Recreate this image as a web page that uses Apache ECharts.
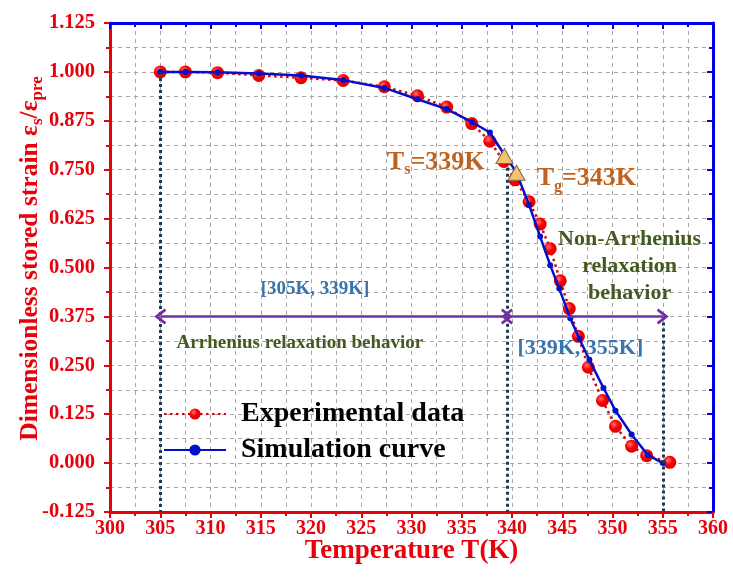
<!DOCTYPE html>
<html>
<head>
<meta charset="utf-8">
<script src="https://cdn.jsdelivr.net/npm/echarts@6/dist/echarts.min.js"></script>
<style>
html,body{margin:0;padding:0;background:#fff;}
#chart{width:733px;height:577px;}
</style>
</head>
<body>
<div id="chart"></div>
<script>
// ---- data ----
var expT   = [305, 307.5, 310.7, 314.8, 319.0, 323.2, 327.3, 330.6, 333.5, 336.0, 337.8, 339.2, 340.3, 341.7, 342.8, 343.8, 344.8, 345.7, 346.6, 347.6, 349.0, 350.3, 351.9, 353.4, 355.7];
var expV   = [1.000, 1.000, 0.998, 0.991, 0.985, 0.978, 0.962, 0.939, 0.910, 0.868, 0.823, 0.771, 0.724, 0.668, 0.611, 0.548, 0.466, 0.395, 0.324, 0.245, 0.160, 0.094, 0.043, 0.019, 0.002];
var simT   = [305, 307.5, 310.7, 314.8, 319.0, 323.2, 327.3, 330.6, 333.5, 336.0, 337.8, 339.2, 340.4, 341.7, 342.8, 343.8, 344.7, 345.8, 346.7, 347.7, 349.1, 350.3, 351.9, 353.5, 355.0];
var simV   = [1.000, 1.000, 0.999, 0.996, 0.991, 0.979, 0.959, 0.930, 0.905, 0.872, 0.845, 0.790, 0.745, 0.660, 0.579, 0.506, 0.446, 0.370, 0.318, 0.264, 0.192, 0.134, 0.073, 0.021, 0.000];
var triT   = [339.25, 340.45];
var triV   = [0.785, 0.742];
var xTicks = {min: 300, max: 360, interval: 5};
var yTicks = {min: -0.125, max: 1.125, interval: 0.125};
var seriesNames = ['Experimental data', 'Simulation curve'];
var ranges = [[305, 339.5], [339.5, 355]];
var rangeLevel = 0.375;
var vLines = [[305, 1.0], [339.5, 0.755], [355, 0.375]];

// ---- styles ----
var FONT = '"Liberation Serif", "Times New Roman", serif';
var RED = '#e8000b';
var BLUE = '#0000e6';
var GRID = {color: '#a6a6a6', type: [4, 4], width: 1};

function pairs(xs, ys) { return xs.map(function (x, i) { return [x, ys[i]]; }); }

var chart = echarts.init(document.getElementById('chart'), null, {renderer: 'canvas'});

var chevron = 'path://M5,0 L10,8 L8.6,9.2 L5,3.6 L1.4,9.2 L0,8 Z';

var option = {
  animation: false,
  backgroundColor: '#fff',
  grid: {left: 110, right: 20, top: 23, bottom: 65, containLabel: false, outerBoundsMode: 'none'},
  legend: {
    data: seriesNames,
    orient: 'vertical',
    left: 158, top: 395,
    itemWidth: 62, itemHeight: 14, itemGap: 8,
    textStyle: {fontFamily: FONT, fontWeight: 'bold', fontSize: 28, color: '#000', lineHeight: 28, padding: [0, 0, 0, 10]}
  },
  xAxis: [{
    type: 'value', position: 'bottom',
    min: xTicks.min, max: xTicks.max, interval: xTicks.interval,
    axisLine: {onZero: false, lineStyle: {color: RED, width: 3}},
    axisTick: {length: 6, lineStyle: {color: RED, width: 2}},
    minorTick: {show: true, splitNumber: 2, length: 4, lineStyle: {color: RED, width: 2}},
    axisLabel: {color: RED, fontFamily: FONT, fontWeight: 'bold', fontSize: 20, margin: 7},
    splitLine: {show: true, lineStyle: GRID},
    minorSplitLine: {show: true, lineStyle: GRID},
    name: 'Temperature T(K)', nameLocation: 'middle', nameGap: 26, nameMoveOverlap: false,
    nameTextStyle: {color: RED, fontFamily: FONT, fontWeight: 'bold', fontSize: 27}
  }, {
    type: 'value', position: 'top',
    min: xTicks.min, max: xTicks.max, interval: xTicks.interval,
    axisLine: {onZero: false, lineStyle: {color: BLUE, width: 3}},
    axisTick: {inside: true, length: 6, lineStyle: {color: BLUE, width: 2}},
    minorTick: {show: true, splitNumber: 2, length: 4, lineStyle: {color: BLUE, width: 2}},
    axisLabel: {show: false}, splitLine: {show: false}
  }],
  yAxis: [{
    type: 'value', position: 'left',
    min: yTicks.min, max: yTicks.max, interval: yTicks.interval,
    axisLine: {onZero: false, lineStyle: {color: RED, width: 3}},
    axisTick: {length: 6, lineStyle: {color: RED, width: 2}},
    minorTick: {show: true, splitNumber: 2, length: 4, lineStyle: {color: RED, width: 2}},
    axisLabel: {color: RED, fontFamily: FONT, fontWeight: 'bold', fontSize: 20.5, margin: 15,
      formatter: function (v) { return v.toFixed(3); }},
    splitLine: {show: true, lineStyle: GRID},
    minorSplitLine: {show: true, lineStyle: GRID},
    name: 'Dimensionless stored strain ε{sub|s}/ε{sub|pre}',
    nameLocation: 'middle', nameRotate: 90, nameGap: 64, nameMoveOverlap: false,
    nameTextStyle: {color: RED, fontFamily: FONT, fontWeight: 'bold', fontSize: 25.5, padding: [0, 0, 0, 18],
      rich: {sub: {color: RED, fontFamily: FONT, fontWeight: 'bold', fontSize: 17, padding: [15, 0, 0, 0]}}}
  }, {
    type: 'value', position: 'right',
    min: yTicks.min, max: yTicks.max, interval: yTicks.interval,
    axisLine: {onZero: false, lineStyle: {color: BLUE, width: 3}},
    axisTick: {inside: true, length: 6, lineStyle: {color: BLUE, width: 2}},
    minorTick: {show: true, splitNumber: 2, length: 4, lineStyle: {color: BLUE, width: 2}},
    axisLabel: {show: false}, splitLine: {show: false}
  }],
  series: [{
    name: seriesNames[0], type: 'line', xAxisIndex: 0, yAxisIndex: 0,
    data: pairs(expT, expV),
    symbol: 'circle', symbolSize: 13,
    lineStyle: {color: '#e00000', width: 2.5, type: [2.5, 3.5]},
    itemStyle: {color: new echarts.graphic.RadialGradient(0.38, 0.35, 0.7, [
      {offset: 0, color: '#ff7a7a'}, {offset: 0.45, color: '#ff0000'}, {offset: 1, color: '#d40000'}])},
    z: 2
  }, {
    name: seriesNames[1], type: 'line', xAxisIndex: 0, yAxisIndex: 0,
    data: pairs(simT, simV),
    symbol: 'circle', symbolSize: 6,
    lineStyle: {color: '#0010cc', width: 2.5},
    itemStyle: {color: '#0010cc'},
    z: 3
  }, {
    name: 'markers', type: 'scatter', xAxisIndex: 0, yAxisIndex: 0,
    data: pairs(triT, triV),
    symbol: 'triangle', symbolSize: [17, 15],
    itemStyle: {color: '#f3c46e', borderColor: '#7a6a50', borderWidth: 1, opacity: 1},
    z: 5, silent: true,
    markLine: {
      silent: true, symbol: ['none', 'none'], label: {show: false},
      lineStyle: {color: '#1d3a50', width: 3, type: [3, 3], opacity: 1},
      data: vLines.map(function (v) { return [{coord: [v[0], v[1]]}, {coord: [v[0], yTicks.min]}]; })
    }
  }, {
    name: 'annotations', type: 'scatter', xAxisIndex: 0, yAxisIndex: 0,
    symbolSize: 0, silent: true, z: 6,
    itemStyle: {opacity: 1},
    label: {show: true, position: 'inside', fontFamily: FONT, fontWeight: 'bold', opacity: 1},
    data: [
      {value: [320.4, 0.445], label: {formatter: '[305K, 339K]', fontSize: 19, color: '#3a74ad'}},
      {value: [318.9, 0.306], label: {formatter: 'Arrhenius relaxation behavior', fontSize: 19, color: '#455a22'}},
      {value: [346.8, 0.293], label: {formatter: '[339K, 355K]', fontSize: 22, color: '#3a74ad'}},
      {value: [351.7, 0.503], label: {formatter: 'Non-Arrhenius\nrelaxation\nbehavior', fontSize: 22, lineHeight: 27, color: '#455a22', align: 'center'}},
      {value: [332.4, 0.770], label: {formatter: '{a|T}{b|s}{a|=339K}', rich: {
        a: {fontFamily: FONT, fontWeight: 'bold', fontSize: 26, color: '#c0621f'},
        b: {fontFamily: FONT, fontWeight: 'bold', fontSize: 16, color: '#c0621f', padding: [16, 0, 0, 0]}}}},
      {value: [347.4, 0.727], label: {formatter: '{a|T}{b|g}{a|=343K}', rich: {
        a: {fontFamily: FONT, fontWeight: 'bold', fontSize: 26, color: '#c0621f'},
        b: {fontFamily: FONT, fontWeight: 'bold', fontSize: 16, color: '#c0621f', padding: [16, 0, 0, 0]}}}}
    ],
    markLine: {
      silent: true, label: {show: false},
      symbol: [chevron, chevron], symbolSize: [16, 12],
      lineStyle: {color: '#7030a0', width: 2.5, type: 'solid', opacity: 1},
      data: ranges.map(function (r) { return [{coord: [r[0], rangeLevel]}, {coord: [r[1], rangeLevel]}]; })
    }
  }]
};
chart.setOption(option);
</script>
</body>
</html>
